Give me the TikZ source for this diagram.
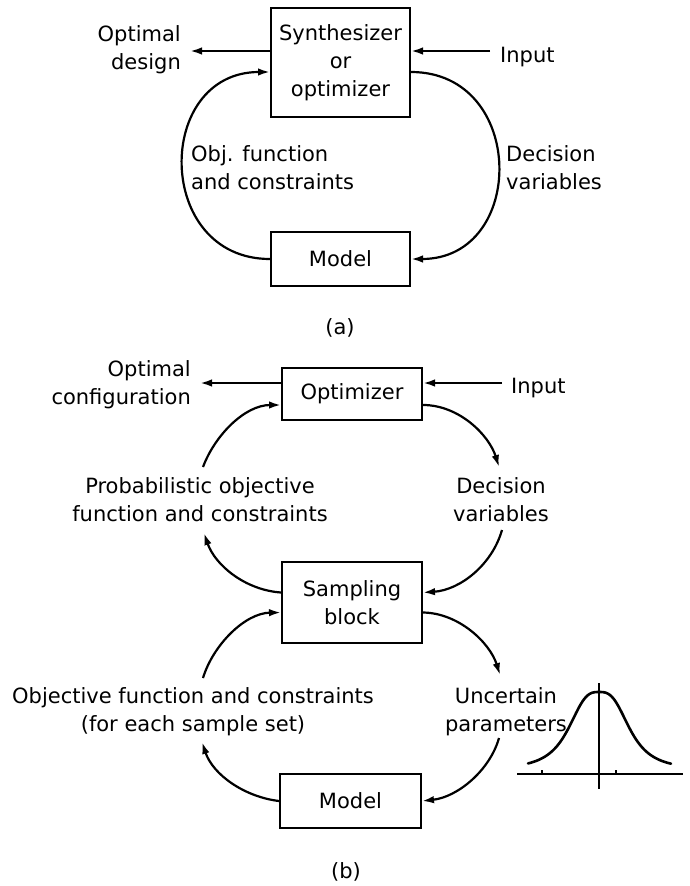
\documentclass[tikz,border=0pt]{standalone}
\usepackage{fontspec}
\setmainfont{DejaVu Sans}
\usetikzlibrary{arrows.meta,calc}
\begin{document}
\begin{tikzpicture}[x=1pt,y=-1pt,
  every node/.style={font=\fontsize{21}{28}\selectfont, inner sep=0pt},
  blockbox/.style={draw, line width=2pt, align=center},
  flow/.style={line width=2.2pt, -{Latex[length=12pt,width=7.5pt]}},
  axisline/.style={line width=1.5pt},
]
\useasboundingbox (0,0) rectangle (689,886);

% ---------- (a) synthesizer loop ----------
\node[blockbox, minimum width=139pt, minimum height=109pt] (syn) at (340.5,62.5) {Synthesizer\\or\\optimizer};
\node[blockbox, minimum width=139pt, minimum height=54pt] (moda) at (340.5,259) {Model};
\node[align=right, anchor=east] (optd) at (181,50) {Optimal\\design};
\node[anchor=west] (inpa) at (500,57) {Input};
\node[align=left, anchor=west] (objf) at (191,168) {Obj. function\\and constraints};
\node[align=left, anchor=west] (deca) at (506,168) {Decision\\variables};
\node (lbla) at (340,328) {(a)};

\coordinate (optdEnd) at (190,51);
\coordinate (inpaStart) at (490,51);
\draw[flow] ($(syn.west)+(0,-11.5)$) -- (optdEnd);
\draw[flow] (inpaStart) -- ($(syn.east)+(0,-11.5)$);
\draw[flow] (moda.west) .. controls (154,259) and (154,72) .. ($(syn.west)+(0,9.5)$);
\draw[flow] ($(syn.east)+(0,9.5)$) .. controls (527,72) and (527,259) .. (moda.east);

% ---------- (b) stochastic optimization loop ----------
\node[blockbox, minimum width=140pt, minimum height=52pt] (opt) at (352,394) {Optimizer};
\node[blockbox, minimum width=140pt, minimum height=81pt] (samp) at (352,602.5) {Sampling\\block};
\node[blockbox, minimum width=141pt, minimum height=54pt] (modb) at (350.5,801) {Model};
\node[align=right, anchor=east] (optc) at (191,385) {Optimal\\configuration};
\node[anchor=west] (inpb) at (511,388) {Input};
\node[align=center] (probf) at (200,500) {Probabilistic objective\\function and constraints};
\node[align=center] (decb) at (501,500) {Decision\\variables};
\node[align=center] (objb) at (193,712) {Objective function and constraints\\(for each sample set)};
\node[align=center] (unc) at (506,712) {Uncertain\\parameters};
\node (lblb) at (346,872) {(b)};

% free ends of the arcs next to the labels
\coordinate (pTop) at (203,467);
\coordinate (pMid) at (204,533);
\coordinate (oTop) at (203,678);
\coordinate (oBot) at (202,742);
\coordinate (dTop) at (499,467);
\coordinate (dBot) at (502,530);
\coordinate (uTop) at (500,675);
\coordinate (uBot) at (499,738);
\coordinate (optcEnd) at (200,383);
\coordinate (inpbStart) at (502,383);

\draw[flow] ($(opt.west)+(0,-11)$) -- (optcEnd);
\draw[flow] (inpbStart) -- ($(opt.east)+(0,-11)$);

\draw[flow] (pTop) .. controls (215,435) and (245,405) .. ($(opt.west)+(0,11)$);
\draw[flow] ($(samp.west)+(0,-10)$) .. controls (245,590) and (215,565) .. (pMid);
\draw[flow] ($(opt.east)+(0,11)$) .. controls (459,405) and (489,435) .. (dTop);
\draw[flow] (dBot) .. controls (492,565) and (460,590) .. ($(samp.east)+(0,-10)$);

\draw[flow] (oTop) .. controls (213,645) and (245,613) .. ($(samp.west)+(0,10)$);
\draw[flow] (modb.west) .. controls (245,797) and (213,775) .. (oBot);
\draw[flow] ($(samp.east)+(0,10)$) .. controls (459,613) and (490,643) .. (uTop);
\draw[flow] (uBot) .. controls (490,770) and (458,797) .. (modb.east);

% ---------- distribution sketch ----------
\draw[axisline] (517,774) -- (683,774);
\draw[axisline] (599,683) -- (599,789);
\draw[line width=1.2pt] (542,774) -- (542,770);
\draw[line width=1.2pt] (616,774) -- (616,770);
\draw[line width=2.6pt, line join=round, line cap=round]
  plot[domain=-71:72, samples=90, smooth] ({599+\x},{770-78/(1+((abs(\x)+0.001)/32)^3)});
\end{tikzpicture}
\end{document}
